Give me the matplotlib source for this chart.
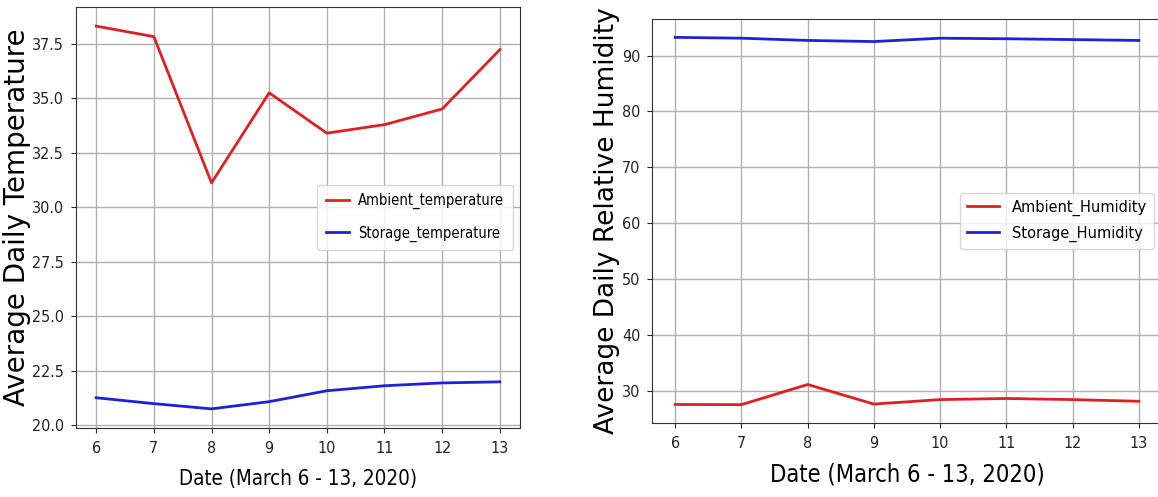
import matplotlib
matplotlib.use('Agg')
import matplotlib.pyplot as plt

days = [6, 7, 8, 9, 10, 11, 12, 13]
ambient_temp = [38.32, 37.84, 31.13, 35.26, 33.41, 33.80, 34.52, 37.24]
storage_temp = [21.27, 21.00, 20.76, 21.09, 21.59, 21.82, 21.95, 22.00]
ambient_hum = [27.63, 27.60, 31.20, 27.70, 28.50, 28.70, 28.50, 28.20]
storage_hum = [93.25, 93.10, 92.70, 92.50, 93.10, 93.00, 92.85, 92.70]
temp_ticks = [20.0, 22.5, 25.0, 27.5, 30.0, 32.5, 35.0, 37.5]
hum_ticks = [30, 40, 50, 60, 70, 80, 90]
xlabel = 'Date (March 6 - 13, 2020)'

red = '#e02020'
blue = '#2020d8'
cond = {'family': 'DejaVu Sans', 'stretch': 'condensed'}

fig_w, fig_h = 1158, 497
fig = plt.figure(figsize=(fig_w / 100, fig_h / 100), dpi=100)


def style_axes(ax, yticks, tick_size):
    ax.set_xticks(days)
    ax.set_yticks(yticks)
    ax.grid(True, color='#b0b0b0', lw=1)
    ax.set_axisbelow(True)
    for lab in ax.get_xticklabels() + ax.get_yticklabels():
        lab.set_fontfamily('DejaVu Sans')
        lab.set_fontstretch('condensed')
        lab.set_fontsize(tick_size)
    ax.tick_params(axis='x', pad=6, colors='#222222')
    ax.tick_params(axis='y', pad=5, colors='#222222')
    for sp in ax.spines.values():
        sp.set_color('#333333')


# left panel: temperature
ax1 = fig.add_axes([76 / fig_w, (fig_h - 428) / fig_h, 444 / fig_w, 421 / fig_h])
ax1.plot(days, ambient_temp, color=red, lw=2, label='Ambient_temperature')
ax1.plot(days, storage_temp, color=blue, lw=2, label='Storage_temperature')
style_axes(ax1, temp_ticks, 11.5)
ax1.set_xlabel(xlabel, fontsize=14.8, **cond)
ax1.xaxis.set_label_coords(0.5, -0.097)
ax1.set_ylabel('Average Daily Temperature', family='DejaVu Sans', fontsize=20)
ax1.yaxis.set_label_coords(-0.101, 0.5)
ax1.legend(loc='center right', prop=dict(size=10.5, **cond), handlelength=1.6,
           handletextpad=0.6, borderpad=0.6, labelspacing=1.1)

# right panel: humidity (right edge runs off the figure as in the source)
ax2 = fig.add_axes([652 / fig_w, (fig_h - 423) / fig_h, 510 / fig_w, 404 / fig_h])
ax2.plot(days, ambient_hum, color=red, lw=2, label='Ambient_Humidity')
ax2.plot(days, storage_hum, color=blue, lw=2, label='Storage_Humidity')
style_axes(ax2, hum_ticks, 11.5)
ax2.set_xlabel(xlabel, fontsize=17, **cond)
ax2.xaxis.set_label_coords(0.5, -0.099)
ax2.set_ylabel('Average Daily Relative Humidity', family='DejaVu Sans', fontsize=19)
ax2.yaxis.set_label_coords(-0.063, 0.5)
ax2.legend(loc='center right', prop=dict(size=11.7, **cond), labelspacing=0.6)

fig.savefig('out.png', dpi=100, facecolor='white')
